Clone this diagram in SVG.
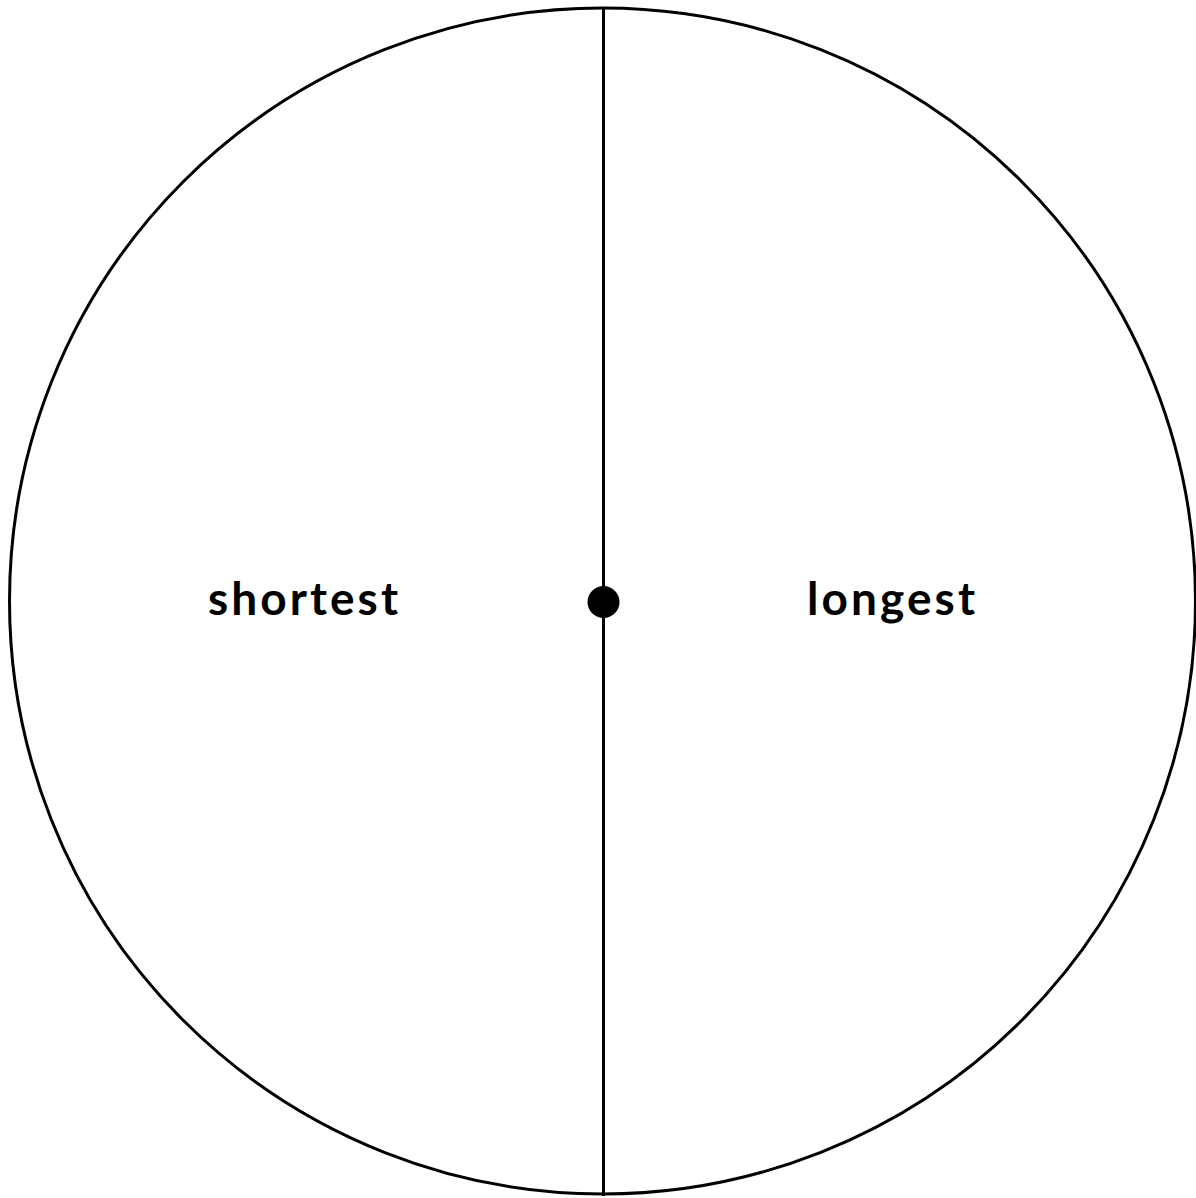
<svg xmlns="http://www.w3.org/2000/svg" width="1196" height="1198" viewBox="0 0 1196 1198">
<style>
.line{fill:none;stroke:#000;stroke-width:3}
.lbl{font-family:Lato,"Noto Sans","Liberation Sans",sans-serif;font-weight:700;font-size:46px;fill:#000}
</style>
<rect width="1196" height="1198" fill="#fff"/>
<g id="circle"><circle class="line" cx="602.5" cy="601" r="593"/></g>
<g id="connectors"><line class="line" x1="603.5" y1="8" x2="603.5" y2="1196"/></g>
<g id="center"><circle cx="603.5" cy="602" r="16" fill="#000"/></g>
<g id="shortest"><text class="lbl" x="208" y="615" textLength="190" lengthAdjust="spacing">shortest</text></g>
<g id="longest"><text class="lbl" x="807" y="615" textLength="168" lengthAdjust="spacing">longest</text></g>
</svg>
